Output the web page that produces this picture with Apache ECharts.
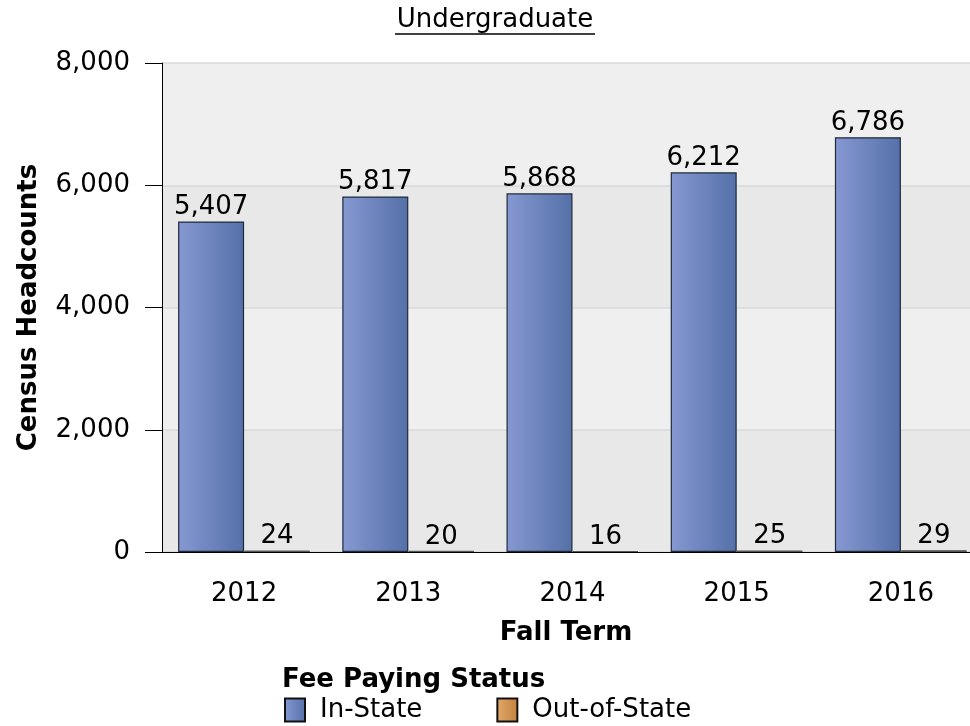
<!DOCTYPE html>
<html>
<head>
<meta charset="utf-8">
<script src="https://cdn.jsdelivr.net/npm/echarts@6/dist/echarts.min.js"></script>
<style>
  html, body { margin: 0; padding: 0; background: #fff; overflow: hidden; }
  #chart { width: 970px; height: 726px; }
</style>
</head>
<body>
<div id="chart"></div>
<script>
// chart data
const years = ["2012", "2013", "2014", "2015", "2016"];
const inState = [5407, 5817, 5868, 6212, 6786];
const outOfState = [24, 20, 16, 25, 29];
const yTicks = [0, 2000, 4000, 6000, 8000];

const FONT = "DejaVu Sans";
const SIZE = 26;
const fmt = (v) => v.toLocaleString("en-US");

const blueFill = new echarts.graphic.LinearGradient(0, 0, 1, 0, [
  { offset: 0, color: "#8698d2" },
  { offset: 1, color: "#5570a8" }
]);
const orangeFill = new echarts.graphic.LinearGradient(0, 0, 1, 0, [
  { offset: 0, color: "#e2aa6c" },
  { offset: 1, color: "#c27f3e" }
]);

const chart = echarts.init(document.getElementById("chart"));

chart.setOption({
  animation: false,
  textStyle: { fontFamily: FONT },
  title: [
    {
      text: "Undergraduate",
      left: 495,
      top: 7,
      padding: 0,
      textAlign: "center",
      textStyle: { fontFamily: FONT, fontSize: SIZE, fontWeight: "normal", color: "#000" }
    },
    {
      text: "Fee Paying Status",
      left: 282,
      top: 667,
      padding: 0,
      textStyle: { fontFamily: FONT, fontSize: SIZE, fontWeight: "bold", color: "#000" }
    }
  ],
  graphic: [
    {
      type: "line",
      shape: { x1: 395, y1: 34, x2: 595, y2: 34 },
      style: { stroke: "#000", lineWidth: 1.5 }
    }
  ],
  legend: {
    left: 284,
    top: 697,
    padding: 0,
    icon: "rect",
    itemWidth: 20,
    itemHeight: 23,
    itemGap: 74,
    textStyle: { fontFamily: FONT, fontSize: SIZE, color: "#000", padding: [0, 0, 0, 10] },
    data: [
      { name: "In-State", itemStyle: { borderColor: "#111", borderWidth: 2 } },
      { name: "Out-of-State", itemStyle: { borderColor: "#111", borderWidth: 2 } }
    ]
  },
  // plot runs past the right edge of the canvas, as in the source image
  grid: {
    left: 162,
    width: 821,
    top: 63,
    height: 489,
    containLabel: false,
    outerBoundsMode: "none"
  },
  xAxis: {
    type: "category",
    data: years,
    name: "Fall Term",
    nameLocation: "middle",
    nameGap: 68,
    nameTextStyle: { fontFamily: FONT, fontSize: SIZE, fontWeight: "bold", color: "#000", padding: [0, 13, 0, 0] },
    axisLine: { lineStyle: { color: "#000", width: 1 } },
    axisTick: { alignWithLabel: true, length: 16, lineStyle: { color: "#000" } },
    axisLabel: { fontFamily: FONT, fontSize: SIZE, color: "#000", margin: 29 },
    splitLine: { show: false }
  },
  yAxis: {
    type: "value",
    min: 0,
    max: 8000,
    interval: 2000,
    name: "Census Headcounts",
    nameLocation: "middle",
    nameGap: 120,
    nameTextStyle: { fontFamily: FONT, fontSize: SIZE, fontWeight: "bold", color: "#000" },
    axisLine: { show: true, lineStyle: { color: "#000", width: 1 } },
    axisTick: { show: true, length: 17, lineStyle: { color: "#000" } },
    axisLabel: {
      fontFamily: FONT,
      fontSize: SIZE,
      color: "#000",
      margin: 32,
      formatter: (v) => (yTicks.includes(v) ? fmt(v) : "")
    },
    splitLine: { show: true, lineStyle: { color: "#d9d9d9", width: 1.5 } },
    splitArea: { show: true, areaStyle: { color: ["#e8e8e8", "#efefef"] } }
  },
  series: [
    {
      name: "In-State",
      type: "bar",
      data: inState,
      barWidth: 66,
      barGap: "0%",
      itemStyle: { color: blueFill, borderColor: "#1f2a3a", borderWidth: 1.2 },
      label: {
        show: true,
        position: "top",
        distance: 1,
        fontFamily: FONT,
        fontSize: SIZE,
        color: "#000",
        formatter: (p) => fmt(p.value)
      }
    },
    {
      name: "Out-of-State",
      type: "bar",
      data: outOfState,
      barWidth: 66,
      barGap: "0%",
      itemStyle: { color: orangeFill, borderColor: "#555", borderWidth: 1 },
      label: {
        show: true,
        position: "top",
        distance: 1,
        fontFamily: FONT,
        fontSize: SIZE,
        color: "#000",
        formatter: (p) => fmt(p.value)
      }
    }
  ]
});
</script>
</body>
</html>
